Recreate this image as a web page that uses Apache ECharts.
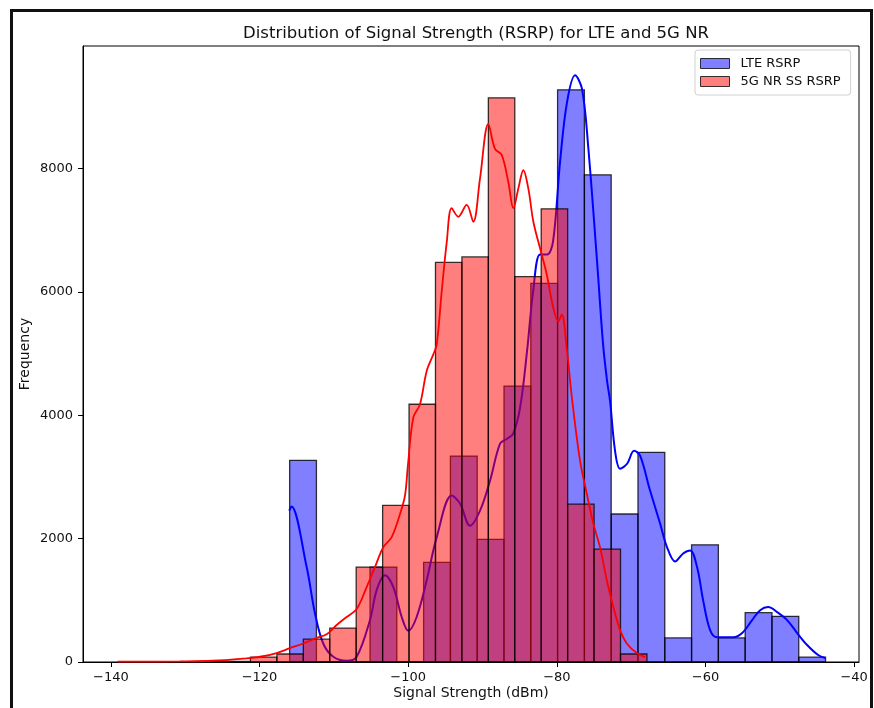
<!DOCTYPE html>
<html><head><meta charset="utf-8">
<script src="https://cdn.jsdelivr.net/npm/echarts@6/dist/echarts.min.js"></script>
<style>html,body{margin:0;padding:0;background:#fff}#c{width:874px;height:708px}</style>
</head><body><div id="c"></div>
<script>
// ---- data ----
const lteBinStart = -115.95;
const lteBinWidth = 3.605;
const lteCounts = [3270, 0, 0, 1540, 0, 1615, 3340, 1990, 4475, 6140, 9280, 7900, 2400, 3400, 390, 1900, 390, 800, 740, 80];

const nrBinStart = -139.0;
const nrBinWidth = 3.556;
const nrCounts = [1, 2, 4, 8, 10, 80, 130, 370, 550, 1540, 2540, 4180, 6480, 6570, 9150, 6250, 7350, 2560, 1830, 130];

const lteKde = [
  [-116.00, 2456], [-115.71, 2520], [-113.66, 1540], [-112.54, 790], [-111.43, 300], [-110.08, 85],
  [-108.28, 20], [-106.93, 85], [-105.14, 680], [-104.24, 1165], [-103.12, 1405], [-102.00, 1215],
  [-100.87, 730], [-99.99, 505], [-98.86, 730], [-97.51, 1325], [-96.16, 2025], [-94.15, 2700],
  [-93.03, 2570], [-91.68, 2210], [-90.34, 2455], [-88.99, 2940], [-87.64, 3540], [-86.70, 3620],
  [-85.89, 3700], [-84.95, 4120], [-84.01, 5040], [-83.20, 6000], [-82.26, 6610], [-81.32, 6610],
  [-80.51, 6820], [-79.57, 8110], [-78.63, 9080], [-77.55, 9515], [-76.61, 9290], [-75.80, 8385],
  [-74.59, 6495], [-73.78, 5150], [-73.24, 4555], [-72.84, 4230], [-72.17, 3425], [-71.49, 3135],
  [-70.55, 3215], [-69.61, 3425], [-68.80, 3345], [-67.46, 2780], [-66.11, 2245], [-65.17, 1860],
  [-64.09, 1630], [-63.01, 1760], [-62.07, 1810], [-61.13, 1535], [-60.32, 1000], [-59.38, 517],
  [-58.44, 400], [-56.29, 400], [-55.07, 470], [-53.73, 680], [-52.65, 840], [-51.57, 890],
  [-50.36, 810], [-49.02, 680], [-47.67, 470], [-46.33, 275], [-44.85, 113], [-43.90, 65]
];

const nrKde = [
  [-139.10, 5], [-130.71, 10], [-126.27, 20], [-121.74, 60], [-119.95, 85], [-117.70, 145],
  [-115.91, 225], [-114.12, 300], [-112.31, 390], [-110.97, 450], [-109.62, 600], [-108.28, 730],
  [-106.93, 860], [-105.59, 1215], [-104.47, 1540], [-103.35, 1860], [-102.22, 2025], [-101.10, 2400],
  [-100.43, 2700], [-100.03, 3200], [-99.31, 3965], [-98.41, 4180], [-97.51, 4720], [-96.62, 4990],
  [-96.16, 5150], [-95.49, 6010], [-94.82, 6800], [-94.15, 7360], [-93.26, 7220], [-92.13, 7415],
  [-91.24, 7140], [-90.34, 7840], [-89.22, 8725], [-88.32, 8320], [-87.42, 8225], [-86.53, 7785],
  [-85.85, 7360], [-85.18, 7680], [-84.51, 7975], [-83.84, 7680], [-83.16, 7140], [-82.26, 6710],
  [-81.36, 6285], [-80.47, 5740], [-79.80, 5525], [-79.34, 5635], [-78.67, 5090], [-77.99, 4300],
  [-76.88, 3265], [-75.97, 2730], [-75.09, 2245], [-74.19, 1860], [-73.28, 1325], [-72.39, 890],
  [-71.49, 517], [-70.59, 300], [-69.25, 145], [-68.13, 80]
];

const xTicks = [-140, -120, -100, -80, -60, -40];
const yTicks = [0, 2000, 4000, 6000, 8000];
const seriesNames = ['LTE RSRP', '5G NR SS RSRP'];
// ---------------------------------------

const FONT = 'DejaVu Sans';
const lteFill = 'rgba(0,0,255,0.5)';
const nrFill = 'rgba(255,0,0,0.5)';
const edge = 'rgba(0,0,0,0.78)';

function binData(start, width, counts) {
  return counts.map((c, i) => [start + i * width, start + (i + 1) * width, c]);
}
function barRenderer(fill) {
  return function (params, api) {
    const a = api.coord([api.value(0), api.value(2)]);
    const b = api.coord([api.value(1), 0]);
    return {
      type: 'rect',
      shape: { x: a[0], y: a[1], width: b[0] - a[0], height: b[1] - a[1] },
      style: { fill: fill, stroke: edge, lineWidth: 1.3 }
    };
  };
}
const minus = v => String(v).replace('-', '\u2212');
const plain = v => String(v);

const chart = echarts.init(document.getElementById('c'), null, { renderer: 'canvas' });
chart.setOption({
  animation: false,
  backgroundColor: '#fff',
  textStyle: { fontFamily: FONT },
  title: {
    text: 'Distribution of Signal Strength (RSRP) for LTE and 5G NR',
    left: 471, top: 20, textAlign: 'center',
    textStyle: { fontFamily: FONT, fontSize: 16.5, fontWeight: 'normal', color: '#111' }
  },
  legend: {
    data: [
      { name: seriesNames[0], icon: 'rect', itemStyle: { color: lteFill, borderColor: edge, borderWidth: 1 } },
      { name: seriesNames[1], icon: 'rect', itemStyle: { color: nrFill, borderColor: edge, borderWidth: 1 } }
    ],
    orient: 'vertical', left: 695, top: 50,
    padding: [7, 10, 7, 5], itemGap: 5, itemWidth: 29, itemHeight: 10,
    backgroundColor: 'rgba(255,255,255,0.8)', borderColor: '#d0d0d0', borderWidth: 1, borderRadius: 3,
    textStyle: { fontFamily: FONT, fontSize: 13, color: '#111', padding: [0, 0, 0, 6] },
    selectedMode: false
  },
  grid: { left: 83, right: 15, top: 46, bottom: 46, show: true, borderColor: '#000', borderWidth: 1, backgroundColor: 'transparent' },
  xAxis: {
    type: 'value', min: -143.75, max: -39.35,
    name: 'Signal Strength (dBm)', nameLocation: 'middle', nameGap: 24, nameMoveOverlap: false,
    nameTextStyle: { fontFamily: FONT, fontSize: 14, color: '#111' },
    axisLine: { show: true, onZero: false, lineStyle: { color: '#000', width: 1 } },
    axisTick: { show: true, length: 5, customValues: xTicks, lineStyle: { color: '#000' } },
    axisLabel: { customValues: xTicks, margin: 9, fontFamily: FONT, fontSize: 13, color: '#111', formatter: minus },
    splitLine: { show: false }
  },
  yAxis: {
    type: 'value', min: 0, max: 9990,
    name: 'Frequency', nameLocation: 'middle', nameGap: 51, nameMoveOverlap: false,
    nameTextStyle: { fontFamily: FONT, fontSize: 14, color: '#111' },
    axisLine: { show: true, lineStyle: { color: '#000', width: 1 } },
    axisTick: { show: true, length: 5, customValues: yTicks, lineStyle: { color: '#000' } },
    axisLabel: { customValues: yTicks, margin: 10, fontFamily: FONT, fontSize: 13, color: '#111', formatter: plain },
    splitLine: { show: false }
  },
  graphic: [{
    type: 'rect', left: 9, top: 8, z: 100, silent: true,
    shape: { x: 0, y: 0, width: 860, height: 730 },
    style: { fill: 'none', stroke: '#111', lineWidth: 3 }
  }],
  series: [
    {
      name: seriesNames[0], type: 'custom', z: 1,
      itemStyle: { color: lteFill },
      renderItem: barRenderer(lteFill),
      encode: { x: [0, 1], y: 2 },
      data: binData(lteBinStart, lteBinWidth, lteCounts)
    },
    {
      name: 'LTE KDE', type: 'line', z: 2, smooth: 0.35, showSymbol: false, silent: true,
      lineStyle: { color: '#0000ff', width: 2 }, itemStyle: { color: '#0000ff' },
      data: lteKde
    },
    {
      name: seriesNames[1], type: 'custom', z: 3,
      itemStyle: { color: nrFill },
      renderItem: barRenderer(nrFill),
      encode: { x: [0, 1], y: 2 },
      data: binData(nrBinStart, nrBinWidth, nrCounts)
    },
    {
      name: '5G KDE', type: 'line', z: 4, smooth: 0.35, showSymbol: false, silent: true,
      lineStyle: { color: '#ff0000', width: 1.8 }, itemStyle: { color: '#ff0000' },
      data: nrKde
    }
  ]
});
</script>
</body></html>
